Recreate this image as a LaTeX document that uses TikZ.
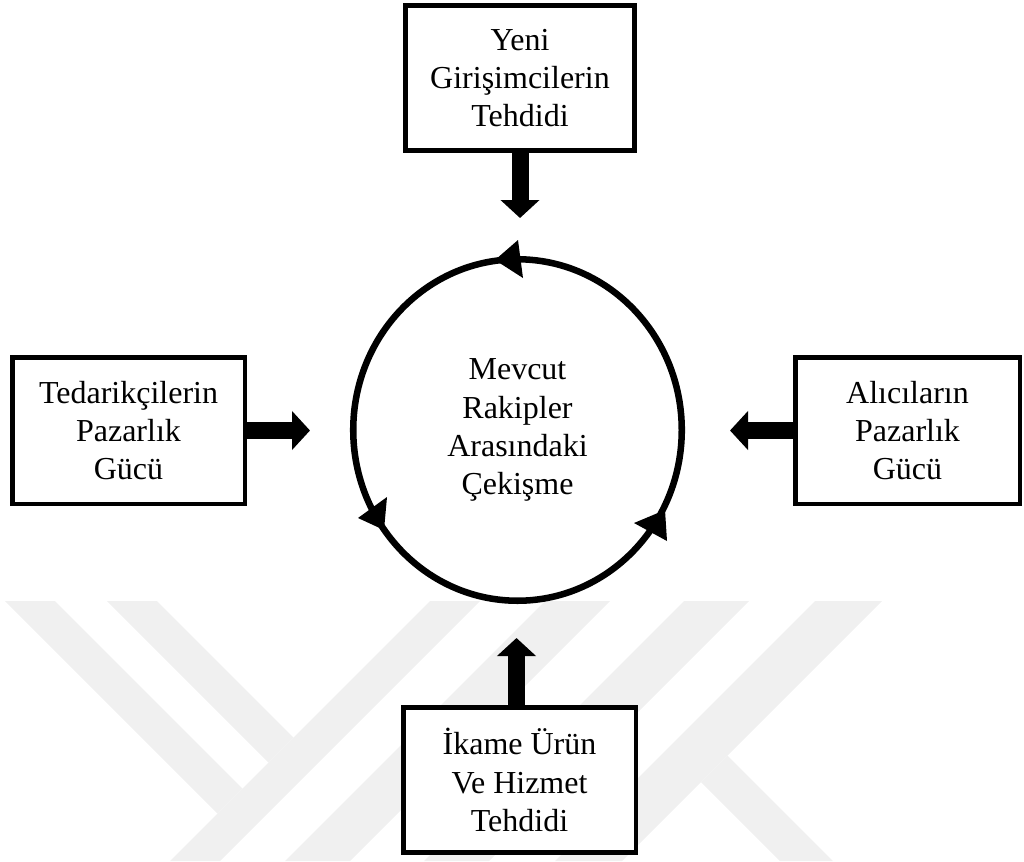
\documentclass[tikz,border=0pt]{standalone}
\usepackage{fontspec}
\setmainfont{Liberation Serif}
\usetikzlibrary{arrows.meta,shapes.geometric}
\definecolor{wmark}{gray}{0.94}
\begin{document}
\begin{tikzpicture}[x=0.75pt,y=-0.75pt,
  label font/.style={font=\fontsize{24}{28.6}\selectfont},
  force/.style={rectangle, draw=black, fill=white, line width=3.4pt,
    align=center, inner sep=0pt, label font},
  hub/.style={ellipse, draw=black, line width=4.9pt,
    minimum width=246.4pt, minimum height=256.1pt,
    align=center, inner sep=0pt, label font},
  push/.style={line width=12.75pt,
    -{Triangle[width=28.5pt 0 0,length=13.5pt 0 0]}},
  spin/.style={fill=black},
  stripe/.style={fill=wmark}
]
\useasboundingbox (0,0) rectangle (1024,861);

% faint background emblem
\fill[stripe] (5,601) -- (55,601) -- (242.5,788.5) -- (217.5,813.5) -- cycle;
\fill[stripe] (107,601) -- (157,601) -- (293.5,737.5) -- (268.5,762.5) -- cycle;
\fill[stripe] (430,601) -- (480,601) -- (220,861) -- (170,861) -- cycle;
\fill[stripe] (545,601) -- (610,601) -- (350,861) -- (285,861) -- cycle;
\fill[stripe] (684,601) -- (749,601) -- (489,861) -- (424,861) -- cycle;
\fill[stripe] (815,601) -- (882,601) -- (622,861) -- (555,861) -- cycle;
\fill[stripe] (727.5,755.5) -- (833,861) -- (780,861) -- (701,782) -- cycle;

% the five forces
\node[force, minimum width=172.1pt, minimum height=109.1pt] (entrants) at (520,78)
  {Yeni\\Girişimcilerin\\Tehdidi};
\node[force, minimum width=174.4pt, minimum height=109.9pt] (suppliers) at (128.5,430.5)
  {Tedarikçilerin\\Pazarlık\\Gücü};
\node[force, minimum width=168.4pt, minimum height=109.9pt] (buyers) at (907.5,430.5)
  {Alıcıların\\Pazarlık\\Gücü};
\node[force, minimum width=174.4pt, minimum height=109.1pt] (substitutes) at (519.5,780)
  {İkame Ürün\\Ve Hizmet\\Tehdidi};
\node[hub] (rivalry) at (517.5,430) {Mevcut\\Rakipler\\Arasındaki\\Çekişme};

% arrow tips stop short of the ring
\coordinate (entrantsTip) at (520,218);
\coordinate (suppliersTip) at (310,430.5);
\coordinate (buyersTip) at (730,430.5);
\coordinate (substitutesTip) at (516.5,638);

\draw[push] (entrants.south) -- (entrantsTip);
\draw[push] (suppliers.east) -- (suppliersTip);
\draw[push] (buyers.west) -- (buyersTip);
\draw[push] (substitutesTip |- substitutes.north) -- (substitutesTip);

% arrowheads on the ring
\fill[spin] (495,260) -- (518,240) -- (523,278) -- cycle;
\fill[spin] (358,518) -- (387,497) -- (384,530) -- cycle;
\fill[spin] (634,523) -- (665,510) -- (667,541) -- cycle;
\end{tikzpicture}
\end{document}
